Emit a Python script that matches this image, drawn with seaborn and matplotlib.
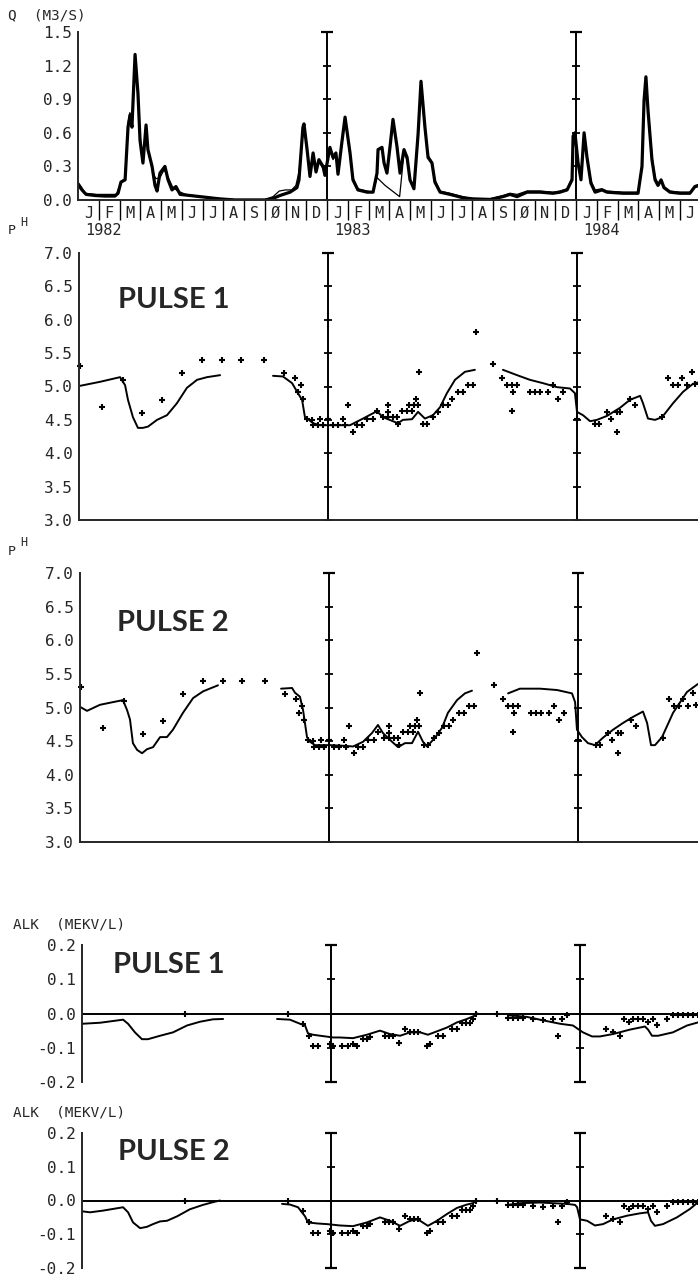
import numpy as np
import pandas as pd
import matplotlib.pyplot as plt
import seaborn as sns
from matplotlib.ticker import FormatStrFormatter

# style first, fonts after (set_style resets font.family)
sns.set_style('white')
plt.rcParams['font.family'] = ['DejaVu Sans Mono']

## data (months counted from 1 Jan 1982)
# discharge, simulated (thick) and observed (thin)
q_sim_m = [0.00, 0.19, 0.39, 0.82, 1.30, 1.78, 1.93, 2.07, 2.27, 2.41, 2.51, 2.60, 2.75, 2.89, 2.99,
           3.13, 3.28, 3.37, 3.57, 3.71, 3.81, 3.95, 4.19, 4.34, 4.53, 4.72, 4.92, 5.40, 5.88, 6.36,
           6.84, 7.57, 8.29, 9.01, 9.35, 9.73, 10.22, 10.55, 10.65, 10.84, 10.89, 11.04, 11.18, 11.33,
           11.47, 11.61, 11.81, 11.90, 12.14, 12.29, 12.43, 12.53, 12.72, 12.87, 13.11, 13.25, 13.49,
           13.93, 14.22, 14.41, 14.46, 14.65, 14.75, 14.89, 15.04, 15.18, 15.37, 15.52, 15.71, 15.86,
           16.00, 16.19, 16.39, 16.53, 16.72, 16.87, 17.06, 17.20, 17.45, 17.93, 18.55, 19.04, 19.86,
           20.48, 20.82, 21.16, 21.64, 22.27, 22.89, 23.23, 23.57, 23.81, 23.86, 23.95, 24.10, 24.24,
           24.39, 24.53, 24.72, 24.92, 25.25, 25.49, 26.27, 26.99, 27.18, 27.28, 27.37, 27.47, 27.66,
           27.81, 27.95, 28.10, 28.24, 28.53, 29.01, 29.49, 29.73, 29.88]
q_sim_v = [0.14, 0.09, 0.05, 0.04, 0.035, 0.035, 0.06, 0.16, 0.18, 0.65, 0.76, 0.65, 1.30, 0.95, 0.53,
           0.33, 0.67, 0.45, 0.30, 0.13, 0.08, 0.24, 0.30, 0.18, 0.09, 0.12, 0.05, 0.04, 0.03, 0.02,
           0.01, 0.0, 0.0, 0.0, 0.01, 0.04, 0.07, 0.11, 0.18, 0.65, 0.68, 0.45, 0.21, 0.42,
           0.25, 0.36, 0.30, 0.22, 0.47, 0.38, 0.42, 0.23, 0.52, 0.74, 0.42, 0.18, 0.09,
           0.07, 0.07, 0.24, 0.45, 0.47, 0.33, 0.24, 0.48, 0.72, 0.48, 0.24, 0.45, 0.38,
           0.18, 0.10, 0.59, 1.06, 0.65, 0.38, 0.33, 0.16, 0.07, 0.05, 0.02, 0.01, 0.005,
           0.03, 0.05, 0.03, 0.07, 0.07, 0.06, 0.07, 0.09, 0.18, 0.57, 0.60, 0.33, 0.18,
           0.60, 0.38, 0.15, 0.07, 0.09, 0.07, 0.06, 0.06, 0.30, 0.89, 1.10, 0.80, 0.36,
           0.18, 0.13, 0.18, 0.11, 0.07, 0.06, 0.06, 0.12, 0.13]
q_obs_m = [0.00, 0.15, 0.35, 0.90, 1.50, 1.85, 1.95, 2.10, 2.28, 2.42, 2.50, 2.60, 2.74, 2.88, 2.98,
           3.12, 3.27, 3.40, 3.60, 3.75, 3.95, 4.15, 4.35, 4.55, 4.80, 5.20, 5.90, 6.60, 7.50, 9.00,
           9.40, 9.70, 10.00, 10.30, 10.50, 10.65, 10.85, 10.90, 11.05, 11.18, 11.33, 11.47, 11.61,
           11.81, 11.90, 12.14, 12.29, 12.43, 12.53, 12.72, 12.87, 13.11, 13.25, 13.49, 13.93, 14.22,
           14.41, 14.80, 15.50, 15.71, 15.86, 16.00, 16.19, 16.39, 16.53, 16.72, 16.87, 17.06, 17.20,
           17.45, 17.93, 18.55, 19.04, 19.86, 20.48, 20.82, 21.16, 21.64, 22.27, 22.89, 23.23, 23.57,
           23.81, 23.86, 23.95, 24.10, 24.24, 24.39, 24.53, 24.72, 24.92, 25.25, 25.49, 26.27, 26.99,
           27.18, 27.28, 27.37, 27.47, 27.66, 27.81, 27.95, 28.10, 28.24, 28.53, 29.01, 29.49, 29.73, 29.88]
q_obs_v = [0.16, 0.12, 0.06, 0.05, 0.05, 0.05, 0.10, 0.17, 0.19, 0.70, 0.78, 0.70, 1.22, 1.00, 0.60,
           0.36, 0.62, 0.42, 0.25, 0.19, 0.20, 0.27, 0.20, 0.12, 0.08, 0.05, 0.03, 0.015, 0.005, 0.005,
           0.03, 0.08, 0.09, 0.09, 0.13, 0.25, 0.62, 0.66, 0.42, 0.24, 0.40, 0.27, 0.34,
           0.28, 0.24, 0.45, 0.36, 0.40, 0.25, 0.50, 0.71, 0.40, 0.20, 0.10, 0.08, 0.07,
           0.20, 0.13, 0.03, 0.42, 0.36, 0.19, 0.11, 0.55, 1.02, 0.62, 0.40, 0.34, 0.18,
           0.08, 0.06, 0.03, 0.01, 0.01, 0.04, 0.06, 0.05, 0.08, 0.08, 0.07, 0.08, 0.10,
           0.20, 0.55, 0.58, 0.35, 0.20, 0.58, 0.40, 0.17, 0.09, 0.10, 0.08, 0.07, 0.07,
           0.32, 0.86, 1.07, 0.82, 0.40, 0.20, 0.15, 0.17, 0.12, 0.08, 0.07, 0.07, 0.11, 0.12]

# pH observed (same samples in both pulse runs)
ph_obs_m = [0.05, 1.11, 2.12, 3.04, 4.00, 4.96, 5.93, 6.89, 7.81, 8.92, 9.88, 10.41, 10.70, 10.55, 10.80,
            10.99, 11.23, 11.28, 11.52, 11.61, 11.76, 12.00, 12.24, 12.48, 12.72, 12.82, 12.96, 13.20,
            13.40, 13.64, 13.88, 14.17, 14.36, 14.65, 14.89, 15.13, 15.33, 14.89, 14.89, 15.37, 15.57,
            15.81, 16.05, 15.90, 16.14, 16.34, 16.24, 16.39, 16.58, 16.77, 17.06, 17.30, 17.54, 17.78,
            17.98, 18.27, 18.51, 18.75, 18.99, 19.13, 19.95, 20.39, 20.63, 20.87, 21.11, 20.92, 20.87,
            21.73, 21.98, 22.22, 22.60, 22.84, 23.08, 23.33, 24.00, 24.87, 25.06, 25.45, 25.64, 25.93,
            26.07, 25.93, 26.55, 26.80, 28.10, 28.39, 28.63, 28.87, 29.06, 29.30, 29.54, 29.69]
ph_obs_v = [5.30, 4.70, 5.10, 4.60, 4.80, 5.20, 5.40, 5.40, 5.40, 5.40, 5.20, 5.12, 5.02, 4.92, 4.82,
            4.52, 4.50, 4.42, 4.42, 4.52, 4.42, 4.52, 4.42, 4.42, 4.52, 4.42, 4.72, 4.32,
            4.42, 4.42, 4.52, 4.52, 4.63, 4.54, 4.54, 4.54, 4.54, 4.72, 4.62, 4.44, 4.63,
            4.63, 4.63, 4.72, 4.72, 4.72, 4.82, 5.22, 4.44, 4.44, 4.54, 4.62, 4.72, 4.72,
            4.82, 4.92, 4.92, 5.02, 5.02, 5.81, 5.34, 5.12, 5.02, 5.02, 5.02, 4.92, 4.63,
            4.92, 4.92, 4.92, 4.92, 5.02, 4.82, 4.92, 4.52, 4.44, 4.44, 4.62, 4.52, 4.62,
            4.62, 4.32, 4.82, 4.72, 4.54, 5.12, 5.02, 5.02, 5.12, 5.02, 5.22, 5.04]

# pH simulated, pulse 1
ph1_sim_m = [0.05, 1.01, 1.98, 2.22, 2.36, 2.60, 2.84, 3.08, 3.33, 3.76, 4.24, 4.72, 5.20, 5.69, 6.17, 6.80,
             9.35, 9.83, 10.27, 10.55, 10.75, 10.89, 11.04, 11.28, 11.61, 12.34, 13.06, 13.69, 14.36,
             14.65, 15.37, 15.61, 16.05, 16.34, 16.67, 17.06, 17.40, 17.73, 18.12, 18.60, 19.08,
             20.43, 21.11, 21.73, 22.36, 23.04, 23.66, 23.90, 24.00, 24.29, 24.63, 24.96, 25.45, 26.07,
             26.55, 27.04, 27.18, 27.42, 27.76, 28.10, 28.63, 29.11, 29.59, 29.83]
ph1_sim_v = [5.01, 5.07, 5.14, 5.02, 4.80, 4.54, 4.38, 4.38, 4.40, 4.50, 4.57, 4.75, 4.98, 5.10, 5.14, 5.17,
             5.16, 5.15, 5.05, 4.90, 4.80, 4.54, 4.51, 4.45, 4.42, 4.42, 4.42, 4.52, 4.63,
             4.54, 4.45, 4.50, 4.51, 4.62, 4.52, 4.57, 4.69, 4.90, 5.10, 5.22, 5.25,
             5.25, 5.17, 5.10, 5.05, 4.99, 4.97, 4.90, 4.62, 4.57, 4.48, 4.50, 4.56, 4.68,
             4.80, 4.86, 4.75, 4.52, 4.50, 4.54, 4.75, 4.92, 5.04, 5.06]

# pH simulated, pulse 2
ph2_sim_m = [0.00, 0.34, 0.96, 1.59, 2.07, 2.27, 2.41, 2.55, 2.75, 2.99, 3.23, 3.52, 3.86, 4.19, 4.48, 4.96,
             5.45, 5.93, 6.65,
             9.69, 10.22, 10.36, 10.60, 10.75, 10.94, 11.08, 11.33, 12.05, 12.77, 13.16, 13.64, 14.07,
             14.36, 14.60, 15.04, 15.33, 15.66, 16.00, 16.29, 16.53, 16.72, 17.11, 17.45, 17.73, 18.17,
             18.55, 18.89,
             20.63, 21.20, 22.17, 22.99, 23.71, 23.86, 23.95, 24.19, 24.48, 24.82, 25.20, 25.69, 26.17,
             26.65, 27.13, 27.33, 27.52, 27.71, 28.05, 28.58, 29.25, 29.78]
ph2_sim_v = [5.01, 4.95, 5.04, 5.08, 5.11, 4.96, 4.82, 4.47, 4.37, 4.32, 4.38, 4.41, 4.56, 4.56, 4.67, 4.92,
             5.14, 5.24, 5.33,
             5.28, 5.29, 5.22, 5.16, 4.96, 4.56, 4.49, 4.44, 4.44, 4.43, 4.42, 4.49, 4.62,
             4.74, 4.62, 4.49, 4.41, 4.47, 4.47, 4.64, 4.49, 4.42, 4.55, 4.70, 4.92, 5.11,
             5.21, 5.25,
             5.21, 5.28, 5.28, 5.26, 5.21, 5.08, 4.67, 4.56, 4.47, 4.44, 4.55, 4.67, 4.77,
             4.86, 4.94, 4.77, 4.44, 4.44, 4.56, 4.92, 5.23, 5.35]

# alkalinity observed (same samples in both pulse runs)
alk_obs_m = [4.96, 9.93, 10.65, 10.94, 11.13, 11.37, 11.95, 12.10, 12.53, 12.82, 13.06, 13.25, 13.54, 13.73,
             13.88, 14.60, 14.80, 14.99, 15.28, 15.57, 15.81, 16.00, 16.19, 16.63, 16.77, 17.16, 17.40,
             17.83, 18.07, 18.31, 18.51, 18.70, 18.84, 18.99, 20.00, 20.53, 20.77, 21.01, 21.25, 21.73,
             22.22, 22.70, 22.94, 23.13, 23.37, 25.25, 25.59, 25.93, 26.12, 26.36, 26.55, 26.80, 27.04,
             27.28, 27.52, 27.71, 28.19, 28.48, 28.72, 28.96, 29.21, 29.45, 29.69]
alk_obs_v = [0.0, 0.0, -0.03, -0.065, -0.095, -0.095, -0.09, -0.095, -0.095, -0.095, -0.09, -0.095, -0.075, -0.075,
             -0.07, -0.065, -0.065, -0.065, -0.085, -0.045, -0.055, -0.055, -0.055, -0.095, -0.09, -0.065, -0.065,
             -0.045, -0.045, -0.027, -0.027, -0.027, -0.017, 0.0, 0.0, -0.012, -0.012, -0.012, -0.012, -0.015,
             -0.02, -0.015, -0.065, -0.015, -0.005, -0.045, -0.055, -0.065, -0.015, -0.025, -0.015, -0.015, -0.015,
             -0.025, -0.015, -0.035, -0.015, -0.005, -0.005, -0.005, -0.005, -0.005, -0.005]

# alkalinity simulated, pulse 1
alk1_sim_m = [0.00, 0.87, 1.98, 2.22, 2.55, 2.89, 3.18, 3.76, 4.39, 5.06, 5.69, 6.31, 6.80,
              9.40, 10.02, 10.51, 10.75, 10.89, 11.13, 11.61, 12.10, 12.43, 13.06, 13.73, 14.36, 14.84,
              15.33, 15.81, 16.29, 16.67, 17.11, 17.59, 18.07, 18.55, 18.94, 19.04,
              20.53, 21.45, 22.22, 23.04, 23.66, 23.90, 24.14, 24.58, 24.96, 25.59, 26.41, 27.13, 27.28,
              27.47, 27.76, 28.48, 29.16, 29.69]
alk1_sim_v = [-0.030, -0.027, -0.018, -0.030, -0.055, -0.075, -0.075, -0.065, -0.055, -0.035, -0.024, -0.017, -0.016,
              -0.016, -0.018, -0.030, -0.035, -0.058, -0.062, -0.066, -0.070, -0.070, -0.072, -0.062, -0.050, -0.060,
              -0.065, -0.055, -0.055, -0.062, -0.052, -0.041, -0.026, -0.016, -0.006, 0.000,
              -0.005, -0.010, -0.020, -0.030, -0.035, -0.045, -0.055, -0.067, -0.067, -0.060, -0.047, -0.038, -0.047,
              -0.065, -0.065, -0.055, -0.035, -0.026]

# alkalinity simulated, pulse 2
alk2_sim_m = [0.00, 0.39, 1.01, 1.98, 2.22, 2.46, 2.80, 3.13, 3.42, 3.76, 4.10, 4.58, 5.20, 5.83, 6.31, 6.65,
              9.64, 10.02, 10.41, 10.75, 10.89, 11.33, 11.81, 12.43, 13.06, 13.73, 14.36, 14.84, 15.33,
              15.81, 16.19, 16.67, 17.11, 17.59, 18.07, 18.55, 18.84, 18.99,
              20.53, 21.11, 22.07, 22.70, 23.37, 23.76, 23.86, 24.00, 24.34, 24.72, 25.11, 25.59, 26.27,
              26.89, 27.28, 27.42, 27.61, 28.00, 28.67, 29.30, 29.69]
alk2_sim_v = [-0.032, -0.035, -0.030, -0.020, -0.035, -0.065, -0.082, -0.078, -0.070, -0.062, -0.060, -0.047,
              -0.026, -0.013, -0.005, 0.000,
              -0.010, -0.012, -0.020, -0.047, -0.065, -0.068, -0.070, -0.074, -0.076, -0.065, -0.050, -0.060, -0.075,
              -0.060, -0.056, -0.075, -0.060, -0.040, -0.022, -0.012, -0.008, 0.000,
              -0.013, -0.008, -0.006, -0.008, -0.010, -0.013, -0.020, -0.056, -0.060, -0.074, -0.070, -0.056, -0.045,
              -0.038, -0.035, -0.060, -0.075, -0.070, -0.050, -0.025, -0.005]

# axis labels / ticks
month_letters = ['J', 'F', 'M', 'A', 'M', 'J', 'J', 'A', 'S', 'Ø', 'N', 'D']
years = ['1982', '1983', '1984']
q_ticks = [0.0, 0.3, 0.6, 0.9, 1.2, 1.5]
ph_ticks = [3.0, 3.5, 4.0, 4.5, 5.0, 5.5, 6.0, 6.5, 7.0]
alk_ticks = [-0.2, -0.1, 0.0, 0.1, 0.2]
year_marks = [12, 24]

## layout (pixels)
W, H = 698, 1276
MONTH_PX = 20.75
fig = plt.figure(figsize=(W / 100, H / 100), dpi=100)

# hand-lettered captions: Lato is the narrowest installed face
pulse_font = dict(fontsize=21, family=['Lato', 'DejaVu Sans'], fontweight='bold')


def panel(left, top, bottom, ticks, bottom_line=True):
    ax = fig.add_axes([left / W, 1 - bottom / H, (W - left) / W, (bottom - top) / H])
    ax.set_xlim(0, (W - left) / MONTH_PX)
    ax.set_ylim(ticks[0], ticks[-1])
    ax.patch.set_alpha(0)
    for side in ['top', 'right']:
        ax.spines[side].set_visible(False)
    ax.spines['left'].set_linewidth(1.4)
    ax.spines['bottom'].set_linewidth(1.4)
    ax.spines['bottom'].set_visible(bottom_line)
    ax.set_xticks([])
    ax.set_yticks(ticks)
    ax.yaxis.set_major_formatter(FormatStrFormatter('%.1f'))
    ax.tick_params(axis='y', direction='inout', length=5, width=1.3, pad=2, labelsize=11.5)
    # vertical year lines with their own little tick crosses
    ax.vlines(year_marks, ticks[0], ticks[-1], color='k', lw=1.4)
    for m in year_marks:
        ax.plot([m] * len(ticks), ticks, ls='none', marker='_', ms=6, mew=1.3, color='k', clip_on=False)
        ax.plot([m], [ticks[-1]], ls='none', marker='_', ms=9, mew=1.6, color='k', clip_on=False)
    return ax


def sim_line(ax, m, v, lw=1.4):
    m = np.asarray(m)
    # split into separate pieces where the simulation has a gap
    seg = np.concatenate([[0], np.cumsum(np.diff(m) > 1.2)])
    df = pd.DataFrame({'month': m, 'value': v, 'seg': seg})
    sns.lineplot(data=df, x='month', y='value', units='seg', estimator=None, sort=False,
                 color='k', lw=lw, ax=ax, legend=False)
    ax.set_xlabel('')
    ax.set_ylabel('')


def obs_points(ax, m, v):
    sns.scatterplot(x=m, y=v, marker='+', s=18, linewidth=1.5, color='k', ax=ax, legend=False, clip_on=False)
    ax.set_xlabel('')
    ax.set_ylabel('')


def fig_text(x, y, s, **kw):
    fig.text(x / W, 1 - y / H, s, va='center', **kw)


# discharge
ax1 = panel(78, 32, 200, q_ticks)
sns.lineplot(x=q_obs_m, y=q_obs_v, color='k', lw=0.9, ax=ax1, sort=False)
sns.lineplot(x=q_sim_m, y=q_sim_v, color='k', lw=2.3, ax=ax1, sort=False)
ax1.set_xlabel('')
ax1.set_ylabel('')
xt = ax1.get_xaxis_transform()
n_months = int(ax1.get_xlim()[1]) + 1
for i in range(n_months):
    ax1.text(i + 0.5, -0.08, month_letters[i % 12], transform=xt, ha='center', va='center',
             fontsize=11, clip_on=False)
ax1.vlines(range(1, n_months), -0.12, 0, transform=xt, color='k', lw=1.0, clip_on=False)
for k, yr in enumerate(years):
    ax1.text(12 * k + 0.35, -0.18, yr, transform=xt, ha='left', va='center', fontsize=11)
fig_text(8, 15, 'Q  (M3/S)', fontsize=10.3, ha='left')

# pH, pulse 1
ax2 = panel(79, 253, 520, ph_ticks)
sim_line(ax2, ph1_sim_m, ph1_sim_v)
obs_points(ax2, ph_obs_m, ph_obs_v)
fig_text(8, 231, 'P', fontsize=9.5, ha='left')
fig_text(20, 223, 'H', fontsize=8.5, ha='left')
fig_text(118, 300, 'PULSE 1', ha='left', **pulse_font)

# pH, pulse 2
ax3 = panel(80, 573, 842, ph_ticks)
sim_line(ax3, ph2_sim_m, ph2_sim_v)
obs_points(ax3, ph_obs_m, ph_obs_v)
fig_text(8, 551, 'P', fontsize=9.5, ha='left')
fig_text(20, 543, 'H', fontsize=8.5, ha='left')
fig_text(117, 623, 'PULSE 2', ha='left', **pulse_font)

# alkalinity, pulse 1 and 2
for top, bottom, sim_m, sim_v, name, lab_y, pulse_y, pulse_x in [
        (945, 1082, alk1_sim_m, alk1_sim_v, 'PULSE 1', 925, 965, 113),
        (1133, 1268, alk2_sim_m, alk2_sim_v, 'PULSE 2', 1112, 1152, 118)]:
    ax = panel(82, top, bottom, alk_ticks, bottom_line=False)
    ax.axhline(0, color='k', lw=1.4)
    for m in year_marks:
        ax.plot([m], [alk_ticks[0]], ls='none', marker='_', ms=9, mew=1.6, color='k', clip_on=False)
    sim_line(ax, sim_m, sim_v)
    obs_points(ax, alk_obs_m, alk_obs_v)
    fig_text(13, lab_y, 'ALK  (MEKV/L)', fontsize=10.3, ha='left')
    fig_text(pulse_x, pulse_y, name, ha='left', **pulse_font)

fig.savefig('out.png', dpi=100)
